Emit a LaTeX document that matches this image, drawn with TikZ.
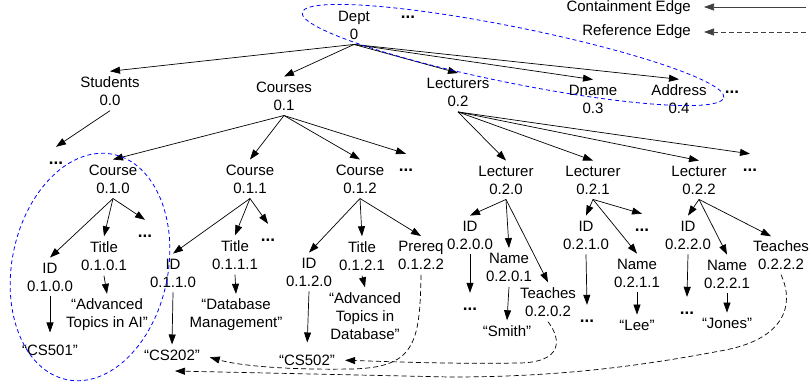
\documentclass[tikz,border=0pt]{standalone}
\usepackage{fontspec}
\setmainfont{Liberation Sans}
\usetikzlibrary{arrows.meta,calc}
\begin{document}
\begin{tikzpicture}[x=1pt,y=-1pt,
  lbl/.style={align=center,font=\fontsize{15}{18}\selectfont,inner xsep=2pt,inner ysep=5pt},
  dots/.style={font=\fontsize{17}{18}\selectfont\bfseries,inner sep=0pt,minimum height=32pt},
  edge/.style={-{Triangle[length=10pt,width=7pt]},line width=0.7pt},
  refedge/.style={-{Triangle[length=10pt,width=7pt]},line width=0.7pt,dash pattern=on 5pt off 3pt},
  group/.style={blue,line width=0.8pt,dash pattern=on 4pt off 3pt}]
\useasboundingbox (0,0) rectangle (811,383);

% legend
\node[lbl,anchor=east] (legc) at (693,8) {Containment Edge};
\node[lbl,anchor=east] (legr) at (693,32) {Reference Edge};
\coordinate (legcs) at (806,7);
\coordinate (legrs) at (806,32);
\draw[edge,black!75,shorten >=11pt] (legcs) -- (legc.east|-legcs);
\draw[refedge,black!75,shorten >=11pt] (legrs) -- (legr.east|-legrs);

% top levels
\node[lbl] (dept) at (354,25) {Dept\\0};
\node[dots] (dotsdept) at (408,17) {...};
\node[lbl] (students) at (110,91) {Students\\0.0};
\node[lbl] (courses) at (284,96) {Courses\\0.1};
\node[lbl] (lecturers) at (458,92.5) {Lecturers\\0.2};
\node[lbl] (dname) at (593,99) {Dname\\0.3};
\node[lbl] (address) at (679,99) {Address\\0.4};
\node[dots] (dotsaddr) at (732,92) {...};

\node[dots] (dotsS) at (56,163) {...};
\node[lbl] (c010) at (113,179) {Course\\0.1.0};
\node[lbl] (c011) at (250,179) {Course\\0.1.1};
\node[lbl] (c012) at (360,179) {Course\\0.1.2};
\node[dots] (dotsC) at (406,170) {...};
\node[lbl] (l020) at (506,180) {Lecturer\\0.2.0};
\node[lbl] (l021) at (593,180) {Lecturer\\0.2.1};
\node[lbl] (l022) at (699,180) {Lecturer\\0.2.2};
\node[dots] (dotsL) at (750,170) {...};

% Course 0.1.0
\node[lbl] (id0100) at (50,277) {ID\\0.1.0.0};
\node[lbl] (t0101) at (104,256) {Title\\0.1.0.1};
\node[dots] (dots010) at (145,236) {...};
\node[lbl] (cs501) at (50,350) {“CS501”};
\node[lbl] (ai) at (107,315) {“Advanced\\Topics in AI”};

% Course 0.1.1
\node[lbl] (id0110) at (173,273) {ID\\0.1.1.0};
\node[lbl] (t0111) at (235,255) {Title\\0.1.1.1};
\node[dots] (dots011) at (268,240) {...};
\node[lbl] (cs202) at (172,355) {“CS202”};
\node[lbl] (dbm) at (236,315) {“Database\\Management”};

% Course 0.1.2
\node[lbl] (id0120) at (309,272) {ID\\0.1.2.0};
\node[lbl] (t0121) at (362,256) {Title\\0.1.2.1};
\node[lbl] (p0122) at (421,255.5) {Prereq\\0.1.2.2};
\node[lbl] (cs502) at (307,360) {“CS502”};
\node[lbl] (atd) at (365,316) {“Advanced\\Topics in\\Database”};

% Lecturer 0.2.0
\node[lbl] (id0200) at (470,235) {ID\\0.2.0.0};
\node[lbl] (n0201) at (509,267.5) {Name\\0.2.0.1};
\node[lbl] (t0202) at (548,302) {Teaches\\0.2.0.2};
\node[dots] (dots0200) at (470,309) {...};
\node[lbl] (smith) at (507,331) {“Smith”};

% Lecturer 0.2.1
\node[lbl] (id0210) at (586,235) {ID\\0.2.1.0};
\node[lbl] (n0211) at (637,273) {Name\\0.2.1.1};
\node[dots] (dots021) at (642,230) {...};
\node[dots] (dots0210) at (587,321) {...};
\node[lbl] (lee) at (637,325) {“Lee”};

% Lecturer 0.2.2
\node[lbl] (id0220) at (688,235) {ID\\0.2.2.0};
\node[lbl] (n0221) at (727,274) {Name\\0.2.2.1};
\node[lbl] (t0222) at (781,255) {Teaches\\0.2.2.2};
\node[dots] (dots0220) at (687,313) {...};
\node[lbl] (jones) at (727,323) {“Jones”};

% containment edges
\foreach \c in {students,courses,lecturers,dname,address}
  \draw[edge] (dept.south) -- (\c.north);
\draw[edge] (students.south) -- (dotsS.north);
\foreach \c in {c010,c011,c012,dotsC}
  \draw[edge] (courses.south) -- (\c.north);
\foreach \c in {l020,l021,l022,dotsL}
  \draw[edge] (lecturers.south) -- (\c.north);

\foreach \c in {id0100,t0101,dots010}
  \draw[edge] (c010.south) -- (\c.north);
\draw[edge,shorten >=7pt] (id0100.south) -- (cs501.north);
\draw[edge] (t0101.south) -- (ai.north);

\foreach \c in {id0110,t0111,dots011}
  \draw[edge] (c011.south) -- (\c.north);
\draw[edge] (id0110.south) -- (cs202.north);
\draw[edge] (t0111.south) -- (dbm.north);

\foreach \c in {id0120,t0121,p0122}
  \draw[edge] (c012.south) -- (\c.north);
\draw[edge,shorten >=7pt] (id0120.south) -- (cs502.north);
\draw[edge] (t0121.south) -- (atd.north);

\foreach \c in {id0200,n0201,t0202}
  \draw[edge] (l020.south) -- (\c.north);
\draw[edge] (id0200.south) -- (dots0200.north);
\draw[edge] (n0201.south) -- (smith.north);

\foreach \c in {id0210,n0211,dots021}
  \draw[edge] (l021.south) -- (\c.north);
\draw[edge] (id0210.south) -- (dots0210.north);
\draw[edge] (n0211.south) -- (lee.north);

\draw[edge] (l022.south) -- (id0220.north);
\draw[edge] (l022.south) -- (n0221.north);
\draw[edge] (l022.south) -- ($(t0222.north)+(-10,1)$);
\draw[edge] (id0220.south) -- (dots0220.north);
\draw[edge] (n0221.south) -- (jones.north);

% reference edges
\coordinate (jonesref) at (175,371);
\draw[refedge,shorten >=8pt] (p0122.south) .. controls (420,345) and (414,368) .. (350,369)
  .. controls (290,370) and (240,366) .. (cs202.east);
\draw[refedge,shorten >=8pt] (t0202.south) .. controls (562,340) and (562,362) .. (520,363)
  .. controls (450,364) and (400,362) .. (cs502.east);
\draw[refedge] (t0222.south) .. controls (795,305) and (785,340) .. (720,351)
  .. controls (640,366) and (560,377) .. (450,377) -- (jonesref);

% groupings
\draw[group,rotate around={-11.4:(513,55)}] (513,55) ellipse [x radius=215pt,y radius=28pt];
\draw[group,rotate around={-11.6:(90,267)}] (90,267) ellipse [x radius=78pt,y radius=115pt];
\end{tikzpicture}
\end{document}
